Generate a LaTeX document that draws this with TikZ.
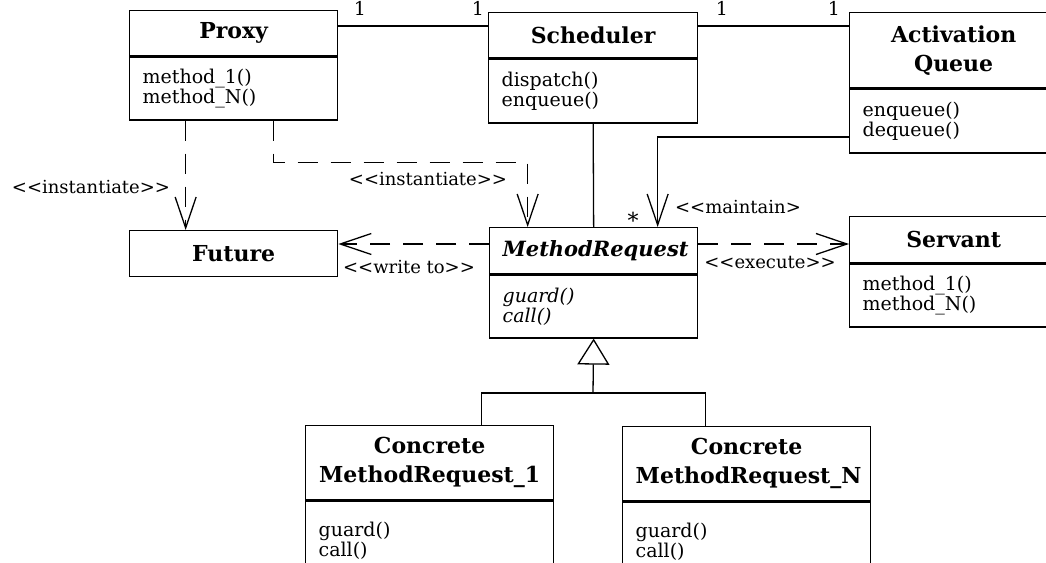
\documentclass[tikz,border=0pt]{standalone}
\usepackage{fontspec}
\setmainfont{DejaVu Serif}
\usetikzlibrary{arrows.meta}
\tikzset{
  box/.style={draw, line width=1.3pt, anchor=north west, inner xsep=13pt, inner ysep=0pt},
  hdr/.style={box, align=center, font=\fontsize{22}{29}\selectfont\bfseries},
  bdy/.style={box, align=left, font=\fontsize{19}{20}\selectfont},
  lbl/.style={font=\fontsize{18}{20}\selectfont, inner sep=0pt},
  mult/.style={font=\fontsize{19}{20}\selectfont, inner sep=0pt},
  conn/.style={line width=1.3pt},
  barb/.style={-{Straight Barb[length=31pt,width=21pt,line width=1.3pt]}},
  dep/.style={conn, barb, dash pattern=on 20pt off 13pt},
  gen/.style={conn, -{Triangle[open,length=26pt,width=32pt,line width=1.3pt,fill=white]}}
}
\newcommand\umlclass[9]{%
  \node[hdr, text width=#5pt, minimum height=#6pt] (#1H) at (#2,#3) {#8};
  \node[bdy, text width=#5pt, minimum height=#7pt] (#1B) at (#1H.south west) {#9};}
\newcommand\ltlt{<\kern0pt<}
\newcommand\gtgt{>\kern0pt>}
\begin{document}
\begin{tikzpicture}[x=1pt,y=-1pt]
\useasboundingbox (0,0) rectangle (1046,562);
\clip (0,0) rectangle (1046,562);
\umlclass{proxy}{129}{10}{208}{182}{45}{63}{Proxy}{method\_1()\\method\_N()}
\umlclass{sched}{488}{12}{209}{183}{45}{64}{Scheduler}{dispatch()\\enqueue()}
\umlclass{actq}{849}{12}{208}{182}{75}{64}{Activation\\Queue}{enqueue()\\dequeue()}
\umlclass{mreq}{489}{227}{208}{182}{46}{63}{\fontsize{21}{29}\selectfont\itshape MethodRequest}{\itshape guard()\\\itshape call()}
\umlclass{serv}{849}{216}{208}{182}{46}{63}{Servant}{method\_1()\\method\_N()}
\umlclass{cone}{305}{425}{248}{222}{74}{80}{Concrete\\MethodRequest\_1}{guard()\\call()}
\umlclass{cenn}{622}{426}{248}{222}{74}{80}{Concrete\\MethodRequest\_N}{guard()\\call()}
\node[hdr, text width=182pt, minimum height=46pt] (future) at (129,230) {Future};
% associations
\draw[conn] (proxyH.east |- 0,26) -- (schedH.west |- 0,26);
\draw[conn] (schedH.east |- 0,26) -- (actqH.west |- 0,26);
\draw[conn] (schedB.south) -- (mreqH.north);
\draw[conn, barb] (actqB.west |- 0,137) -| ([xshift=64pt]mreqH.north);
% dependencies
\draw[dep] ([xshift=-48pt]proxyB.south) -- ([xshift=-48pt]future.north);
\draw[dep] ([xshift=40pt]proxyB.south) -- ++(0,42) -| ([xshift=-66pt]mreqH.north);
\draw[dep] (mreqH.west |- 0,244) -- (future.east |- 0,244);
\draw[dep] (mreqH.east |- 0,244) -- (servH.west |- 0,244);
% generalization
\coordinate (junc) at (593,393);
\draw[conn] ([xshift=52pt]coneH.north) |- (junc) -| ([xshift=-41pt]cennH.north);
\draw[gen] (junc) -- (mreqB.south);
% labels
\node[mult] (m1) at (360,8) {1};
\node[mult] (m2) at (478,8) {1};
\node[mult] (m3) at (722,8) {1};
\node[mult] (m4) at (834,8) {1};
\node[font=\fontsize{22}{22}\selectfont, inner sep=0pt, anchor=base] (star) at (633,228) {*};
\node[lbl] (linst1) at (91,187) {\ltlt instantiate\gtgt};
\node[lbl] (linst2) at (428,179) {\ltlt instantiate\gtgt};
\node[lbl] (lwrite) at (409,267) {\ltlt write to\gtgt};
\node[lbl] (lmaint) at (738,207) {\ltlt maintain>};
\node[lbl] (lexec) at (770,263) {\ltlt execute\gtgt};
\end{tikzpicture}
\end{document}
